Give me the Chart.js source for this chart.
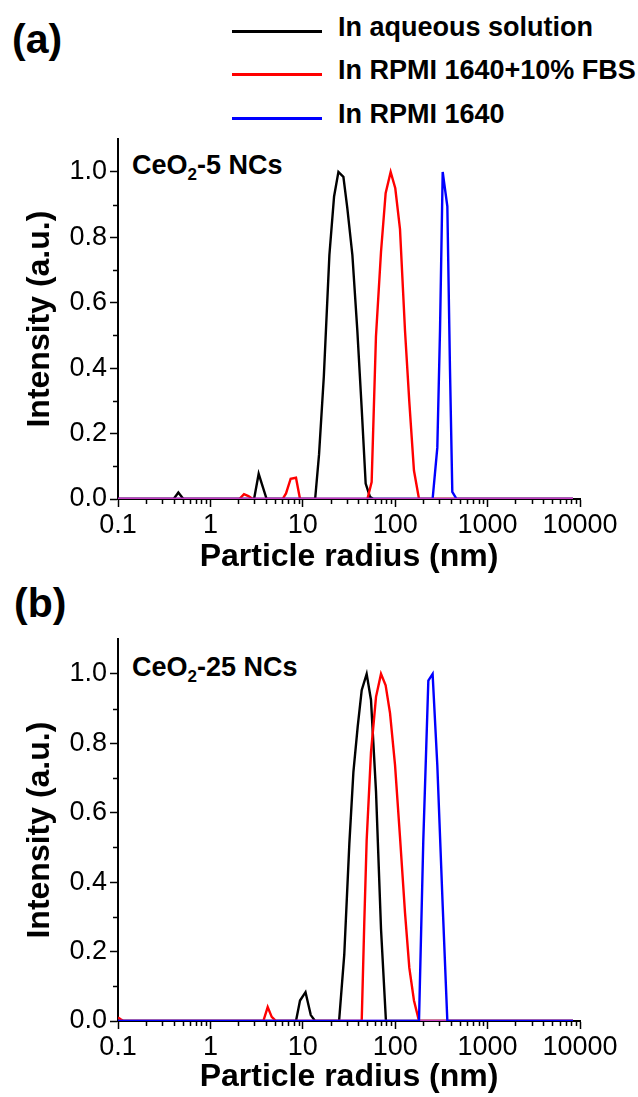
<!DOCTYPE html>
<html>
<head>
<meta charset="utf-8">
<script src="https://cdn.jsdelivr.net/npm/chart.js@4.4.1/dist/chart.umd.min.js"></script>
<style>
  html,body{margin:0;padding:0;background:#fff;}
  body{width:638px;height:1097px;position:relative;overflow:hidden;font-family:'Liberation Sans',Arial,sans-serif;}
  canvas{position:absolute;left:0;}
  .lbl{position:absolute;font-weight:bold;line-height:1;color:#000;white-space:nowrap;}
  .key{position:absolute;left:232px;width:90px;height:3px;}
  .ann{position:absolute;left:132px;font-weight:bold;font-size:27px;line-height:1;white-space:nowrap;}
  .ann sub{font-size:17px;vertical-align:-6px;line-height:0;}
</style>
</head>
<body>
<div class="lbl" style="left:12px;top:19px;font-size:41px">(a)</div>
<div class="lbl" style="left:14px;top:583px;font-size:41px">(b)</div>
<div id="legend"></div>
<div class="ann" style="top:152px">CeO<sub>2</sub>-5 NCs</div>
<div class="ann" style="top:654px">CeO<sub>2</sub>-25 NCs</div>
<canvas id="cA" width="638" height="460" style="top:120px"></canvas>
<canvas id="cB" width="638" height="480" style="top:620px"></canvas>
<script>
// ---- data: radius (nm) / normalised intensity ----
const SERIES = ['In aqueous solution', 'In RPMI 1640+10% FBS', 'In RPMI 1640'];
const COLORS = ['#000000', '#ff0000', '#0000ff'];
const BASE_COLOR = '#c43cc4';

// (a) CeO2-5 NCs
const aqA_r = [0.1, 0.40, 0.45, 0.51, 2.97, 3.33, 4.06, 13.6, 15.0, 16.9, 19.4, 21.8, 24.3, 27.5, 30.3, 34.4, 38.9, 43.4, 47.9, 53.3, 58, 8400];
const aqA_i = [0, 0, 0.02, 0, 0, 0.077, 0, 0, 0.137, 0.376, 0.746, 0.925, 1.0, 0.985, 0.89, 0.746, 0.516, 0.276, 0.047, 0.007, 0, 0];
const fbsA_r = [0.1, 2.06, 2.31, 2.58, 2.87, 6.05, 6.58, 7.39, 8.44, 9.33, 50, 55.6, 61.9, 70.2, 78.8, 89.3, 100.2, 112.7, 127.6, 142.2, 159.6, 181, 8400];
const fbsA_i = [0, 0, 0.015, 0.009, 0, 0, 0.017, 0.062, 0.065, 0, 0, 0.052, 0.496, 0.755, 0.935, 1.0, 0.95, 0.825, 0.516, 0.296, 0.087, 0, 0];
const rpmiA_r = [0.1, 254, 285.6, 305.5, 326.6, 366.7, 391.7, 415, 462, 8400];
const rpmiA_i = [0, 0, 0.157, 0.516, 1.0, 0.895, 0.396, 0.022, 0, 0];

// (b) CeO2-25 NCs
const aqB_r = [0.1, 8.44, 9.33, 10.7, 12.2, 13.6, 24.7, 28.1, 31.9, 35.3, 39.3, 43.4, 49.1, 54.7, 62, 70.2, 79.4, 8400];
const aqB_i = [0, 0, 0.059, 0.083, 0.017, 0, 0, 0.191, 0.511, 0.718, 0.849, 0.953, 1.0, 0.925, 0.661, 0.266, 0, 0];
const fbsB_r = [0.1, 0.107, 0.115, 3.74, 4.17, 4.61, 5.13, 43.4, 46.3, 49.1, 54.7, 62, 70.2, 78.8, 87.9, 99.6, 112.7, 127.6, 142.2, 159.6, 181, 8400];
const fbsB_i = [0.01, 0.005, 0, 0, 0.040, 0.012, 0, 0, 0.285, 0.52, 0.774, 0.934, 1.0, 0.967, 0.887, 0.737, 0.53, 0.313, 0.153, 0.059, 0, 0];
const rpmiB_r = [0.1, 181, 201.4, 228.4, 254, 285.6, 326.6, 366.7, 8400];
const rpmiB_i = [0, 0, 0.52, 0.981, 1.0, 0.737, 0.332, 0, 0];

const base_r = [0.1, 8400];
const base_i = [0, 0];

const X_TICKS = [0.1, 1, 10, 100, 1000, 10000];
const Y_TICKS = [0, 0.2, 0.4, 0.6, 0.8, 1.0];
const Y_MINOR = [0.1, 0.3, 0.5, 0.7, 0.9];
const X_MINOR = [];
X_TICKS.slice(0, -1).forEach(d => { for (let k = 2; k <= 9; k++) X_MINOR.push(d * k); });

const FONT = "'Liberation Sans', Arial, sans-serif";

// legend (html)
document.getElementById('legend').innerHTML = SERIES.map((s, i) => {
  const y = [30, 73, 117][i];
  return `<div class="key" style="top:${y}px;background:${COLORS[i]}"></div>` +
         `<div class="lbl" style="left:338px;top:${y - 16}px;font-size:27px">${s}</div>`;
}).join('');

const pts = (r, v) => r.map((x, i) => ({x, y: v[i]}));
const line = (label, r, v, color, order) => ({label, data: pts(r, v), borderColor: color, borderWidth: 2.4,
  pointRadius: 0, tension: 0, fill: false, order});

const minorTicks = {
  id: 'minorTicks',
  afterDraw(chart) {
    const {ctx, scales: {x, y}} = chart;
    ctx.save(); ctx.strokeStyle = '#000'; ctx.lineWidth = 1.5; ctx.beginPath();
    X_MINOR.forEach(v => { const p = Math.round(x.getPixelForValue(v)) + 0.5; ctx.moveTo(p, x.top); ctx.lineTo(p, x.top + 5); });
    Y_MINOR.forEach(v => { const p = Math.round(y.getPixelForValue(v)) + 0.5; ctx.moveTo(y.right, p); ctx.lineTo(y.right - 5, p); });
    ctx.stroke(); ctx.restore();
  }
};

function opts(padTop, xH) {
  return {
    responsive: false, animation: false, events: [],
    layout: {padding: {top: padTop, right: 58, left: 0, bottom: 0}},
    plugins: {legend: {display: false}, tooltip: {enabled: false}},
    scales: {
      x: {type: 'logarithmic', min: 0.1, max: 10000,
        afterBuildTicks: s => { s.ticks = X_TICKS.map(value => ({value})); },
        afterFit: s => { s.height = xH; },
        border: {color: '#000', width: 2},
        grid: {drawOnChartArea: false, tickLength: 8, tickColor: '#000', tickWidth: 1.5},
        ticks: {autoSkip: false, maxRotation: 0, padding: 2, color: '#000', font: {family: FONT, size: 27},
          callback: v => String(v)},
        title: {display: true, text: 'Particle radius (nm)', color: '#000', padding: {top: 0, bottom: 4},
          font: {family: FONT, size: 32, weight: 'bold'}}
      },
      y: {min: 0, max: 1.1,
        afterBuildTicks: s => { s.ticks = Y_TICKS.map(value => ({value})); },
        afterFit: s => { s.width = 118; },
        border: {color: '#000', width: 2},
        grid: {drawOnChartArea: false, tickLength: 8, tickColor: '#000', tickWidth: 1.5},
        ticks: {padding: 3, color: '#000', font: {family: FONT, size: 27}, callback: v => v.toFixed(1)},
        title: {display: true, text: 'Intensity (a.u.)', color: '#000', padding: {top: 21, bottom: 0},
          font: {family: FONT, size: 32, weight: 'bold'}}
      }
    }
  };
}

new Chart(document.getElementById('cA'), {
  type: 'line',
  data: {datasets: [
    line(SERIES[0], aqA_r, aqA_i, COLORS[0], 3),
    line(SERIES[1], fbsA_r, fbsA_i, COLORS[1], 2),
    line(SERIES[2], rpmiA_r, rpmiA_i, COLORS[2], 1),
    line('baseline', base_r, base_i, BASE_COLOR, 0)
  ]},
  options: opts(12, 81),
  plugins: [minorTicks]
});

new Chart(document.getElementById('cB'), {
  type: 'line',
  data: {datasets: [
    line(SERIES[0], aqB_r, aqB_i, COLORS[0], 3),
    line(SERIES[1], fbsB_r, fbsB_i, COLORS[1], 2),
    line('baseline', base_r, base_i, BASE_COLOR, 1),
    line(SERIES[2], rpmiB_r, rpmiB_i, COLORS[2], 0)
  ]},
  options: opts(11, 79),
  plugins: [minorTicks]
});
</script>
</body>
</html>
